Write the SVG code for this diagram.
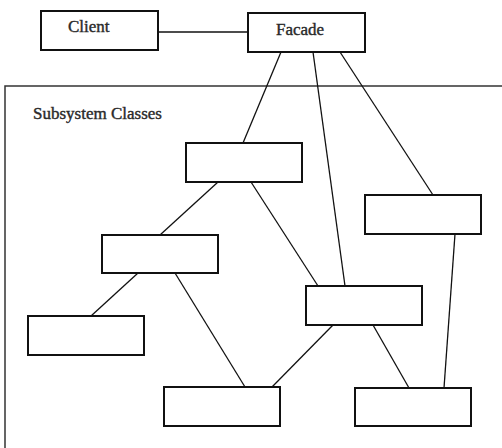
<svg xmlns="http://www.w3.org/2000/svg" width="502" height="448" viewBox="0 0 502 448">
<style>
.box{fill:#fff;stroke:#111;stroke-width:2}
.cont{fill:#fff;stroke:#333;stroke-width:1.5}
.ln{stroke:#111;stroke-width:1.3;fill:none}
.t{font-family:"Liberation Serif","Times New Roman",serif;font-size:17px;fill:#2a2a2a;stroke:#2a2a2a;stroke-width:0.4}
</style>
<rect width="502" height="448" fill="#fff"/>
<g id="subsystem">
<rect class="cont" x="5" y="86" width="510" height="380"/>
<text class="t" x="33" y="119">Subsystem Classes</text>
</g>
<g id="connectors">
<line class="ln" x1="158" y1="32" x2="248" y2="32"/>
<line class="ln" x1="281" y1="52" x2="243" y2="143"/>
<line class="ln" x1="313" y1="52" x2="345" y2="286"/>
<line class="ln" x1="340" y1="52" x2="433" y2="195"/>
<line class="ln" x1="218" y1="182" x2="160" y2="235"/>
<line class="ln" x1="251" y1="182" x2="318" y2="286"/>
<line class="ln" x1="455" y1="234" x2="444" y2="388"/>
<line class="ln" x1="138" y1="273" x2="91" y2="316"/>
<line class="ln" x1="175" y1="273" x2="245" y2="387"/>
<line class="ln" x1="333" y1="325" x2="272" y2="387"/>
<line class="ln" x1="373" y1="325" x2="409" y2="388"/>
</g>
<g id="client">
<rect class="box" x="41" y="11" width="117" height="39"/>
<text class="t" x="68" y="32">Client</text>
</g>
<g id="facade">
<rect class="box" x="248" y="13" width="117" height="39"/>
<text class="t" x="276" y="35">Facade</text>
</g>
<g id="classA"><rect class="box" x="186" y="143" width="116" height="39"/></g>
<g id="classB"><rect class="box" x="365" y="195" width="116" height="39"/></g>
<g id="classC"><rect class="box" x="102" y="235" width="116" height="38"/></g>
<g id="classD"><rect class="box" x="306" y="286" width="116" height="39"/></g>
<g id="classE"><rect class="box" x="28" y="316" width="116" height="39"/></g>
<g id="classF"><rect class="box" x="164" y="387" width="116" height="39"/></g>
<g id="classG"><rect class="box" x="355" y="388" width="116" height="38"/></g>
</svg>
